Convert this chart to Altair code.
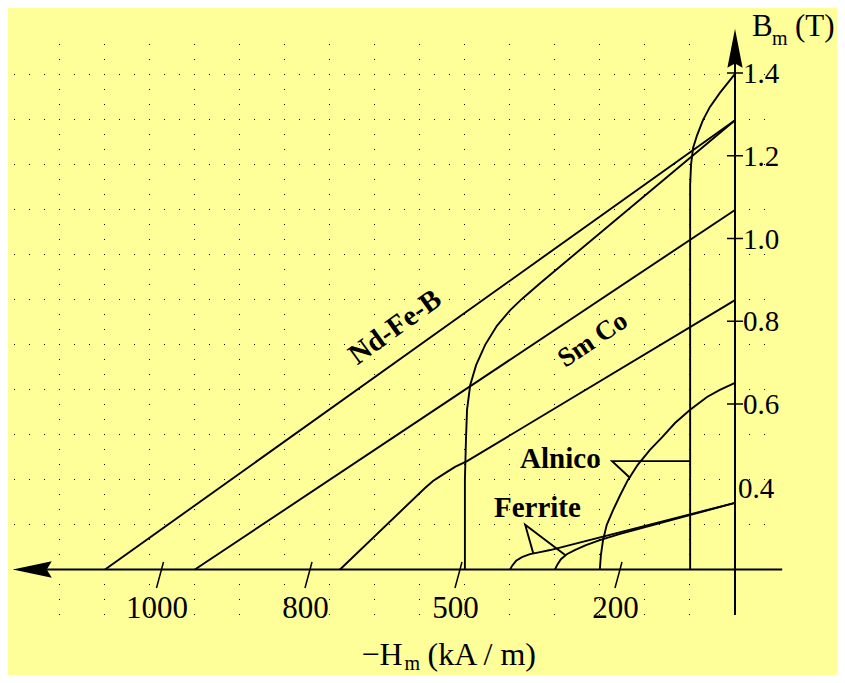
import altair as alt
import pandas as pd

# ---------------- data (H in kA/m, B in T) ----------------
ndfeb_1_H = [1074, 0]
ndfeb_1_B = [0.20, 1.286]
ndfeb_2_H = [488, 488, 486, 484, 478, 467, 450, 428, 403, 381, 347, 0]
ndfeb_2_B = [0.20, 0.416, 0.513, 0.586, 0.646, 0.694, 0.743, 0.789, 0.827, 0.854, 0.892, 1.286]
smco_1_H = [953, 0]
smco_1_B = [0.20, 1.069]
smco_2_H = [737, 567, 551, 533, 507, 484, 0]
smco_2_B = [0.20, 0.397, 0.414, 0.428, 0.448, 0.462, 0.851]
alnico_1_H = [77, 77, 75.5, 72, 65, 55, 43, 26, 0]
alnico_1_B = [0.20, 1.129, 1.178, 1.219, 1.250, 1.286, 1.318, 1.352, 1.398]
alnico_2_H = [235, 233, 229, 222, 210, 197, 184, 167, 146, 125, 103, 77, 48, 26, 0]
alnico_2_B = [0.20, 0.235, 0.271, 0.308, 0.344, 0.380, 0.416, 0.453, 0.489, 0.520, 0.554, 0.586, 0.617, 0.634, 0.651]
ferrite_1_H = [403, 400, 392, 381, 366, 347, 328, 0]
ferrite_1_B = [0.20, 0.208, 0.221, 0.230, 0.237, 0.242, 0.247, 0.361]
ferrite_2_H = [319, 315, 308, 297, 282, 261, 235, 197, 0]
ferrite_2_B = [0.20, 0.211, 0.225, 0.237, 0.247, 0.259, 0.271, 0.286, 0.361]

# label pointers
alnico_ptr_H = [180, 212, 77]
alnico_ptr_B = [0.421, 0.462, 0.462]
ferrite_ptr_H = [360, 375, 300]
ferrite_ptr_B = [0.240, 0.308, 0.235]

# axes
x_ticks = [1000, 800, 500, 200]
x_tick_labels = ["1000", "800", "500", "200"]
y_ticks = [0.6, 0.8, 1.0, 1.2, 1.4]
y_tick_labels = ["0.6", "0.8", "1.0", "1.2", "1.4"]
y_extra_label = [0.4]
x_axis_H = [1172, -81]
x_axis_B = 0.2
y_axis_B = [0.09, 1.46]

# material names
mat_names = ["Nd-Fe-B", "Sm Co", "Alnico", "Ferrite"]
mat_H = [627, 248, 309, 352]
mat_B = [0.786, 0.755, 0.445, 0.327]

# ---------------- build tables ----------------
curves = {
    "ndfeb1": (ndfeb_1_H, ndfeb_1_B), "ndfeb2": (ndfeb_2_H, ndfeb_2_B),
    "smco1": (smco_1_H, smco_1_B), "smco2": (smco_2_H, smco_2_B),
    "alnico1": (alnico_1_H, alnico_1_B), "alnico2": (alnico_2_H, alnico_2_B),
    "ferrite1": (ferrite_1_H, ferrite_1_B), "ferrite2": (ferrite_2_H, ferrite_2_B),
    "ptr_alnico": (alnico_ptr_H, alnico_ptr_B), "ptr_ferrite": (ferrite_ptr_H, ferrite_ptr_B),
}
rows = []
for name, (hs, bs) in curves.items():
    for i, (h, b) in enumerate(zip(hs, bs)):
        rows.append({"series": name, "i": i, "H": h, "B": b})
curve_df = pd.DataFrame(rows)

XS = alt.Scale(domain=[1000, 800, 500, 200, 0], range=[152, 300.5, 450.5, 610.5, 727], nice=False, zero=False)
YS = alt.Scale(domain=[0.2, 1.4], range=[561.5, 65], nice=False, zero=False)
X = lambda f="H": alt.X(f"{f}:Q", scale=XS, axis=None)
Y = lambda f="B": alt.Y(f"{f}:Q", scale=YS, axis=None)

FONT = "'Liberation Serif', 'Times New Roman', 'DejaVu Serif', serif"

lines = alt.Chart(curve_df).mark_line(color="black", strokeWidth=1.9).encode(
    x=X(), y=Y(), detail="series:N", order="i:Q")

axis_df = pd.DataFrame({
    "H": [x_axis_H[0], 0], "H2": [x_axis_H[1], 0],
    "B": [x_axis_B, y_axis_B[0]], "B2": [x_axis_B, y_axis_B[1]],
})
axis_rules = alt.Chart(axis_df).mark_rule(color="black", strokeWidth=2).encode(
    x=X(), x2="H2:Q", y=Y(), y2="B2:Q")

arrow_x = alt.Chart(pd.DataFrame({"H": [x_axis_H[0]], "B": [x_axis_B]})).mark_point(
    shape="M-1,0L1,-0.42L0.74,0L1,0.42Z", size=1521, filled=True, color="black", opacity=1
).encode(x=X(), y=Y())
arrow_y = alt.Chart(pd.DataFrame({"H": [0], "B": [y_axis_B[1]]})).mark_point(
    shape="M0,-1L0.39,1L0,0.78L-0.39,1Z", size=1521, filled=True, color="black", opacity=1
).encode(x=X(), y=Y())

xt_df = pd.DataFrame({"H": x_ticks, "B": [0.1867] * len(x_ticks), "label": x_tick_labels})
x_tick_marks = alt.Chart(xt_df).mark_point(
    shape="M0.27,-1L-0.27,1", size=676, filled=False, color="black", strokeWidth=1.5, opacity=1
).encode(x=X(), y=Y())
x_tick_text = alt.Chart(xt_df.assign(B=0.2)).mark_text(
    font=FONT, fontSize=31, align="center", baseline="alphabetic", dx=-3, dy=48, color="black"
).encode(x=X(), y=Y(), text="label:N")

yt_df = pd.DataFrame({"H": [0] * len(y_ticks), "B": y_ticks, "label": y_tick_labels})
y_tick_marks = alt.Chart(yt_df).mark_point(
    shape="M-1,0L1,0", size=256, filled=False, color="black", strokeWidth=1.5, opacity=1
).encode(x=X(), y=Y())
y_tick_text = alt.Chart(yt_df).mark_text(
    font=FONT, fontSize=29, align="left", baseline="alphabetic", dx=8, dy=10, color="black"
).encode(x=X(), y=Y(), text="label:N")
y_extra_text = alt.Chart(pd.DataFrame({"H": [0], "B": y_extra_label, "label": ["0.4"]})).mark_text(
    font=FONT, fontSize=29, align="left", baseline="alphabetic", dx=3, dy=11, color="black"
).encode(x=X(), y=Y(), text="label:N")

# axis titles with subscripts, anchored to the axes
ytitle_anchor = pd.DataFrame({"H": [0], "B": [1.4]})
yt1 = alt.Chart(ytitle_anchor).mark_text(text="B", font=FONT, fontSize=31, align="left",
                                        baseline="alphabetic", dx=17, dy=-37, color="black").encode(x=X(), y=Y())
yt2 = alt.Chart(ytitle_anchor).mark_text(text="m", font=FONT, fontSize=20, align="left",
                                        baseline="alphabetic", dx=37, dy=-28, color="black").encode(x=X(), y=Y())
yt3 = alt.Chart(ytitle_anchor).mark_text(text="(T)", font=FONT, fontSize=31, align="left",
                                        baseline="alphabetic", dx=60, dy=-37, color="black").encode(x=X(), y=Y())
xtitle_anchor = pd.DataFrame({"H": [500], "B": [0.2]})
xt1 = alt.Chart(xtitle_anchor).mark_text(text="\u2212H", font=FONT, fontSize=32, align="left",
                                        baseline="alphabetic", dx=-97, dy=95, color="black").encode(x=X(), y=Y())
xt2 = alt.Chart(xtitle_anchor).mark_text(text="m", font=FONT, fontSize=20, align="left",
                                        baseline="alphabetic", dx=-54, dy=100, color="black").encode(x=X(), y=Y())
xt3 = alt.Chart(xtitle_anchor).mark_text(text="(kA / m)", font=FONT, fontSize=32, align="left",
                                        baseline="alphabetic", dx=-31, dy=95, color="black").encode(x=X(), y=Y())

mat_df = pd.DataFrame({"H": mat_H, "B": mat_B, "label": mat_names})
ndfeb_label = alt.Chart(mat_df[mat_df.label == "Nd-Fe-B"]).mark_text(
    font=FONT, fontSize=29, fontWeight="bold", angle=324, align="center", baseline="middle", color="black"
).encode(x=X(), y=Y(), text="label:N")
smco_label = alt.Chart(mat_df[mat_df.label == "Sm Co"]).mark_text(
    font=FONT, fontSize=27, fontWeight="bold", angle=326, align="center", baseline="middle", color="black"
).encode(x=X(), y=Y(), text="label:N")
other_labels = alt.Chart(mat_df[mat_df.label.isin(["Alnico", "Ferrite"])]).mark_text(
    font=FONT, fontSize=29, fontWeight="bold", align="center", baseline="alphabetic", color="black"
).encode(x=X(), y=Y(), text="label:N")

main = alt.layer(
    lines, axis_rules, arrow_x, arrow_y, x_tick_marks, x_tick_text, y_tick_marks, y_tick_text,
    y_extra_text, yt1, yt2, yt3, xt1, xt2, xt3, ndfeb_label, smco_label, other_labels,
)

# dotted graph-paper background (paper coordinates, not data)
STEP, DOT = 45, 15
grid_rows = pd.DataFrame({"y": [66.5 + STEP * k for k in range(12)], "x1": 6, "x2": 757})
grid_cols = pd.DataFrame({"x": [51.5 + STEP * j for j in range(16)], "y1": 36, "y2": 607})
grid_r = alt.Chart(grid_rows).mark_rule(color="black", strokeWidth=1, strokeDash=[1, DOT - 1]).encode(
    x=alt.X("x1:Q", scale=None, axis=None), x2="x2:Q", y=alt.Y("y:Q", scale=None, axis=None))
grid_c = alt.Chart(grid_cols).mark_rule(color="black", strokeWidth=1, strokeDash=[1, DOT - 1]).encode(
    x=alt.X("x:Q", scale=None, axis=None), y=alt.Y("y1:Q", scale=None, axis=None), y2="y2:Q")
grid = alt.layer(grid_r, grid_c)

chart = alt.layer(grid, main).resolve_scale(x="independent", y="independent").properties(
    width=829, height=667, autosize=alt.AutoSizeParams(type="none"), padding=0,
    background="#FFFF99",
).configure_view(stroke=None)

chart.save("out.html", embed_options={"renderer": "svg", "actions": False})
